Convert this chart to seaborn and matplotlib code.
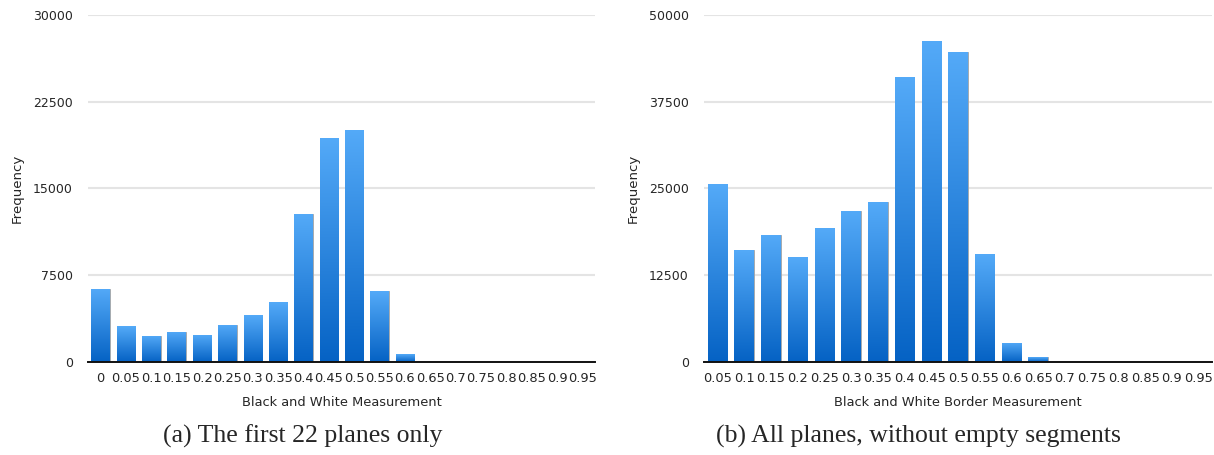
import numpy as np
import matplotlib
matplotlib.use("Agg")
import matplotlib.pyplot as plt
import pandas as pd
import seaborn as sns
from matplotlib.colors import LinearSegmentedColormap

# (a) first 22 planes only
bins_a = ['0', '0.05', '0.1', '0.15', '0.2', '0.25', '0.3', '0.35', '0.4', '0.45',
          '0.5', '0.55', '0.6', '0.65', '0.7', '0.75', '0.8', '0.85', '0.9', '0.95']
freq_a = [6350, 3100, 2250, 2600, 2350, 3200, 4050, 5150, 12800, 19400,
          20100, 6100, 650, 0, 0, 0, 0, 0, 0, 0]

# (b) all planes, without empty segments
bins_b = ['0.05', '0.1', '0.15', '0.2', '0.25', '0.3', '0.35', '0.4', '0.45',
          '0.5', '0.55', '0.6', '0.65', '0.7', '0.75', '0.8', '0.85', '0.9', '0.95']
freq_b = [25600, 16100, 18300, 15100, 19300, 21800, 23000, 41000, 46300,
          44700, 15500, 2750, 670, 0, 0, 0, 0, 0, 0]

ticks_a = [0, 7500, 15000, 22500, 30000]
ticks_b = [0, 12500, 25000, 37500, 50000]

sns.set_style("white")
plt.rcParams['font.family'] = ['DejaVu Sans']

bar_cmap = LinearSegmentedColormap.from_list("bars", ["#0562c4", "#54aaf8"])
grad = np.linspace(0, 1, 256).reshape(-1, 1)

fig = plt.figure(figsize=(12.14, 4.55), dpi=100)
ax_a = fig.add_axes([88 / 1214, 1 - 362 / 455, 507 / 1214, 347 / 455])
ax_b = fig.add_axes([704 / 1214, 1 - 362 / 455, 508 / 1214, 347 / 455])


def draw(ax, bins, freq, ticks, xlabel):
    df = pd.DataFrame({'bin': bins, 'freq': freq})
    sns.barplot(data=df, x='bin', y='freq', ax=ax, color="#2a85e0", width=0.73,
                edgecolor="#a8a8a8", linewidth=0.6, zorder=2)
    # vertical gradient inside every bar
    for p in ax.patches:
        h = p.get_height()
        if h <= 0:
            continue
        x0 = p.get_x()
        im = ax.imshow(grad, extent=[x0, x0 + p.get_width(), 0, h], origin='lower',
                       aspect='auto', cmap=bar_cmap, zorder=2.1)
        im.set_clip_path(p)
    ax.set_xlim(-0.5, len(bins) - 0.5)
    ax.set_ylim(0, ticks[-1])
    ax.set_yticks(ticks)
    ax.set_yticklabels([str(t) for t in ticks], fontsize=9)
    ax.tick_params(axis='x', labelsize=9.4, length=0, pad=7)
    ax.tick_params(axis='y', length=0, pad=11)
    ax.yaxis.grid(True, color="#e4e4e4", linewidth=1.5, zorder=0)
    ax.set_axisbelow(True)
    sns.despine(ax=ax, left=True, top=True, right=True)
    ax.spines['bottom'].set_color("#111111")
    ax.spines['bottom'].set_linewidth(1.4)
    ax.spines['bottom'].set_zorder(3)
    ax.set_xlabel(xlabel, fontsize=9.4, labelpad=8)
    ax.set_ylabel('Frequency', fontsize=9.6)
    ax.yaxis.set_label_coords(-0.126, 0.5)


draw(ax_a, bins_a, freq_a, ticks_a, 'Black and White Measurement')
draw(ax_b, bins_b, freq_b, ticks_b, 'Black and White Border Measurement')

fig.text(303 / 1214, 1 - 436 / 455, '(a) The first 22 planes only',
         family='Liberation Serif', fontsize=18.5, ha='center', va='center')
fig.text(918 / 1214, 1 - 436 / 455, '(b) All planes, without empty segments',
         family='Liberation Serif', fontsize=18.5, ha='center', va='center')

fig.savefig('out.png', dpi=100)
